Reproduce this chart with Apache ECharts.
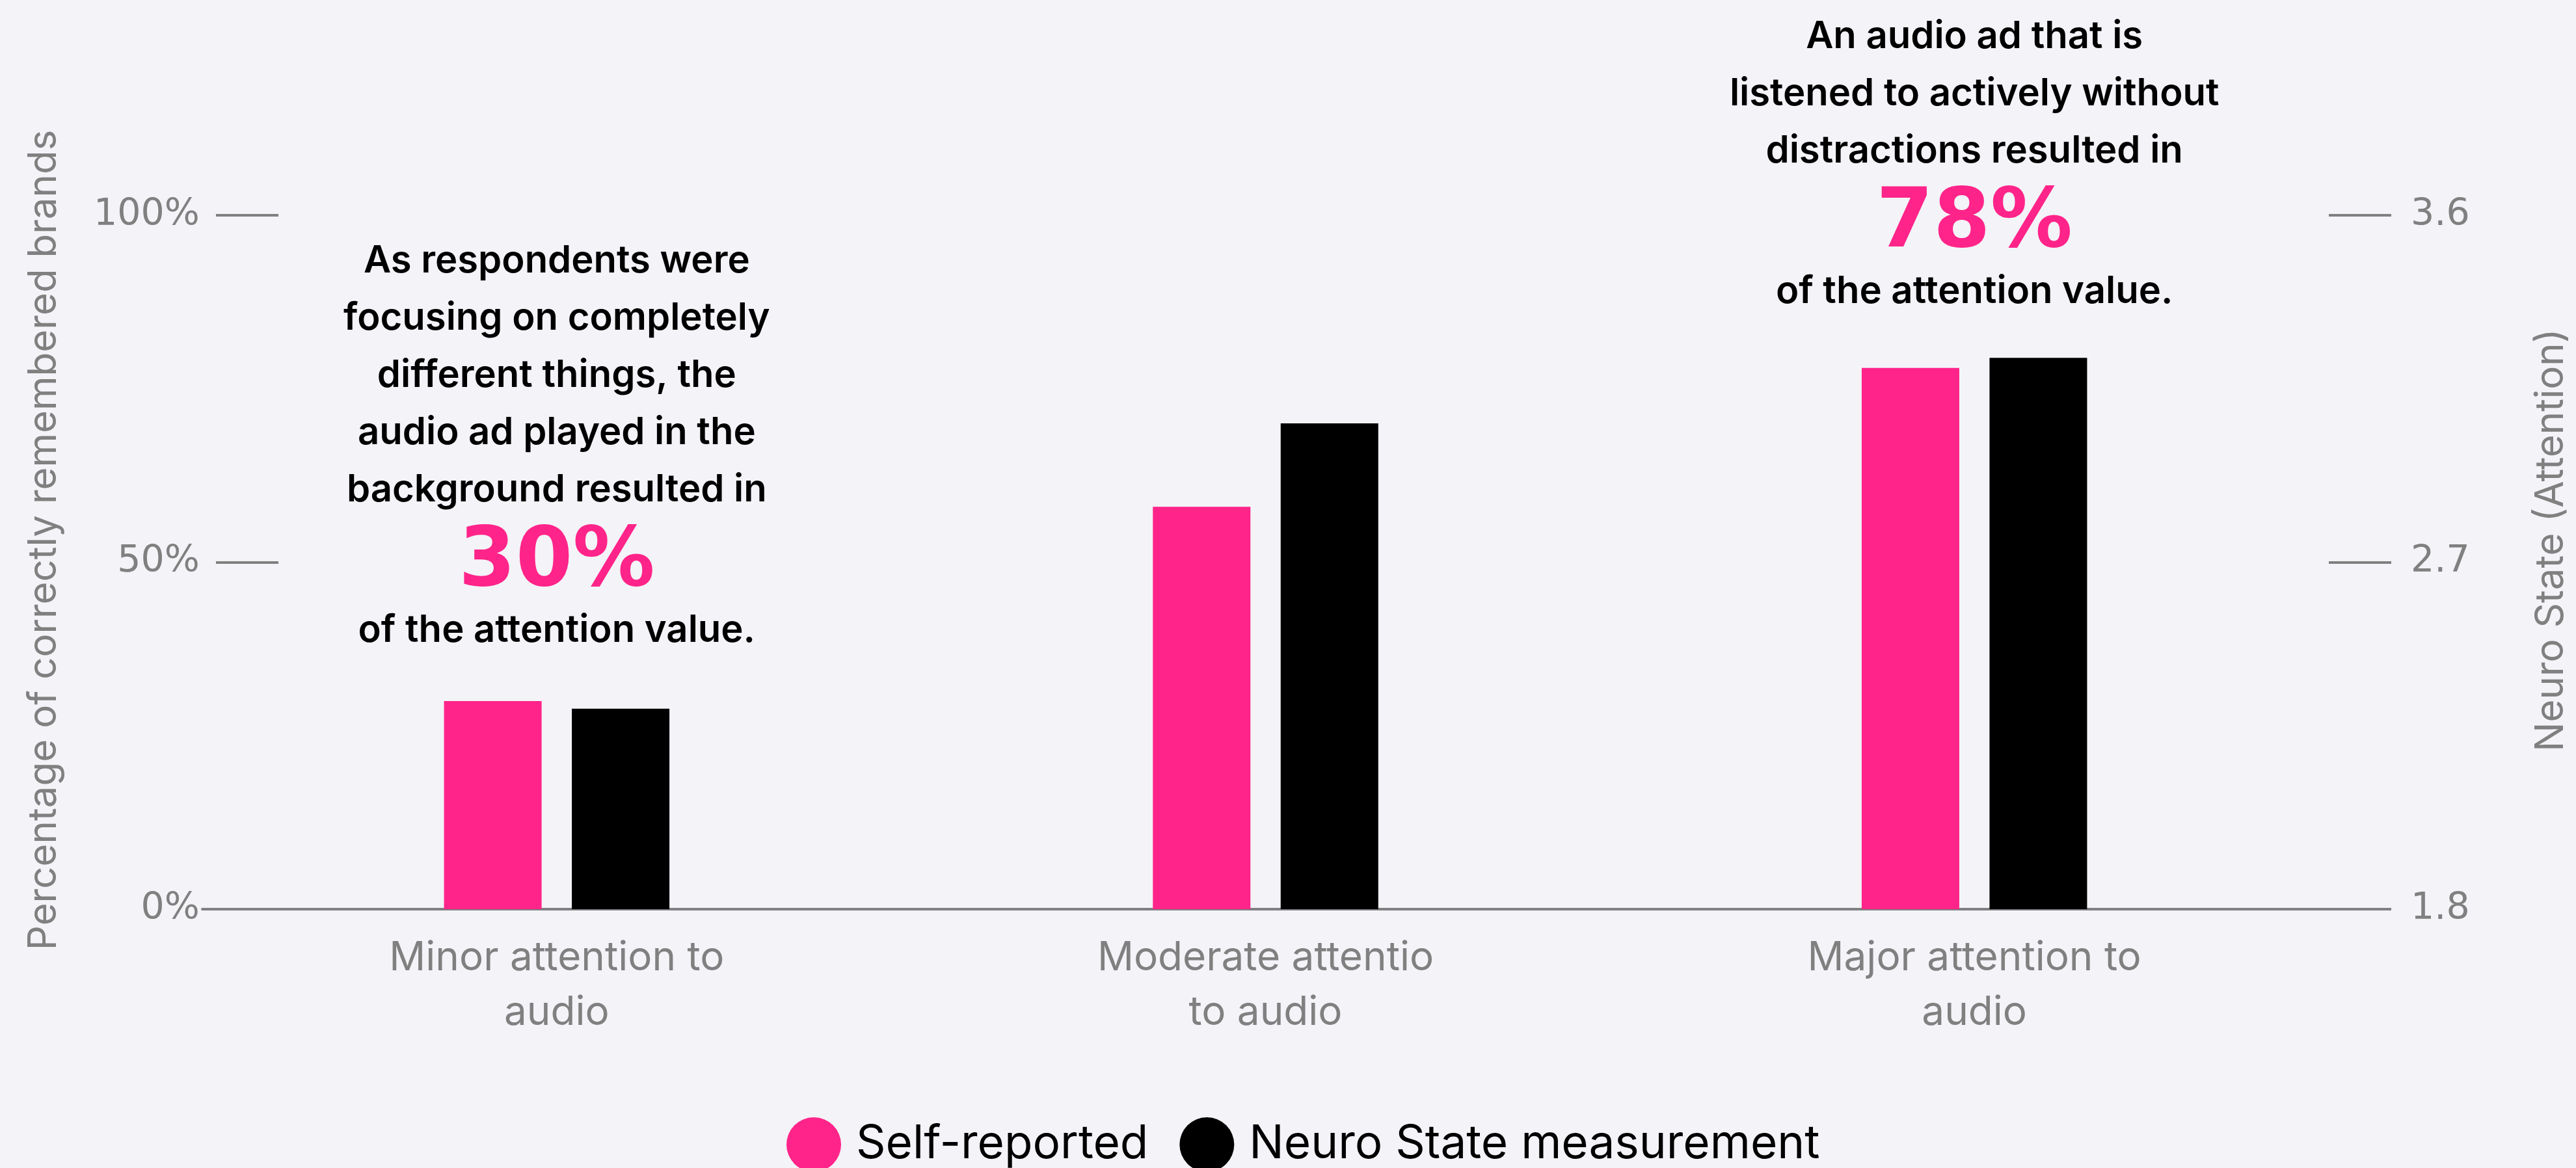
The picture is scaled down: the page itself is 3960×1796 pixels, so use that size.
<!DOCTYPE html>
<html>
<head>
<meta charset="utf-8">
<script src="https://cdn.jsdelivr.net/npm/echarts@6/dist/echarts.min.js"></script>
<style>
  html, body { margin: 0; padding: 0; background: #f3f3f8; }
  #chart { width: 3960px; height: 1796px; }
</style>
</head>
<body>
<div id="chart"></div>
<script>
// ---- data ----
const categories = ['Minor attention to\naudio', 'Moderate attentio\nto audio', 'Major attention to\naudio'];
const selfReported = [30, 58, 78];           // % (left axis)
const neuroState = [2.32, 3.06, 3.23];       // attention (right axis)
const seriesNames = ['Self-reported', 'Neuro State measurement'];
const leftAxisName = 'Percentage of correctly remembered brands';
const rightAxisName = 'Neuro State (Attention)';
const annotationText = [
  { cat: 0, top: 'As respondents were\nfocusing on completely\ndifferent things, the\naudio ad played in the\nbackground resulted in', big: '30%', bottom: 'of the attention value.' },
  { cat: 2, top: 'An audio ad that is\nlistened to actively without\ndistractions resulted in', big: '78%', bottom: 'of the attention value.' }
];

const PINK = '#ff2489';
const GRAY = '#808080';
const TXT_FONT = 'Inter';
const NUM_FONT = 'DejaVu Sans';

const chart = echarts.init(document.getElementById('chart'), null, { renderer: 'canvas' });

const option = {
  backgroundColor: '#f3f3f8',
  animation: false,
  grid: { left: 311, right: 379, top: 331, bottom: 398, containLabel: false },
  legend: {
    left: 1204, top: 1713,
    itemWidth: 84, itemHeight: 84, itemGap: 48,
    icon: 'circle',
    data: seriesNames,
    textStyle: { fontFamily: TXT_FONT, fontSize: 71, color: '#000', padding: [0, 0, 0, 18] }
  },
  xAxis: {
    type: 'category',
    data: categories,
    axisLine: { show: true, lineStyle: { color: GRAY, width: 4 } },
    axisTick: { show: false },
    axisLabel: { color: GRAY, fontFamily: TXT_FONT, fontSize: 62, lineHeight: 84, margin: 33, interval: 0 }
  },
  yAxis: [
    {
      type: 'value', min: 0, max: 100, interval: 50, position: 'left', offset: -117,
      name: leftAxisName, nameLocation: 'middle', nameRotate: 90, nameGap: 330,
      nameTextStyle: { color: GRAY, fontFamily: TXT_FONT, fontSize: 60, padding: [0, 0, 0, 68] },
      axisLine: { show: false },
      axisTick: { show: true, length: 96, lineStyle: { color: GRAY, width: 4 } },
      splitLine: { show: false },
      axisLabel: { color: GRAY, fontFamily: NUM_FONT, fontSize: 57, margin: 121, formatter: '{value}%' }
    },
    {
      type: 'value', min: 1.8, max: 3.6, interval: 0.9, position: 'right',
      name: rightAxisName, nameLocation: 'middle', nameRotate: 90, nameGap: 312,
      nameTextStyle: { color: GRAY, fontFamily: TXT_FONT, fontSize: 60, padding: [0, 0, 0, 68] },
      axisLine: { show: false },
      axisTick: { show: true, length: 96, lineStyle: { color: GRAY, width: 4 } },
      splitLine: { show: false },
      axisLabel: { color: GRAY, fontFamily: NUM_FONT, fontSize: 57, margin: 126, formatter: v => v.toFixed(1) }
    }
  ],
  series: [
    { name: seriesNames[0], type: 'bar', yAxisIndex: 0, data: selfReported, barWidth: 150, barGap: '31%', itemStyle: { color: PINK } },
    { name: seriesNames[1], type: 'bar', yAxisIndex: 1, data: neuroState, barWidth: 150, barGap: '31%', itemStyle: { color: '#000' } }
  ]
};
chart.setOption(option);

// annotations centred above their category group
const annTops = [358, 13];
const annBig = [867, 346];
const annBottom = [926, 405];
const graphics = [];
annotationText.forEach((a, i) => {
  const cx = chart.convertToPixel({ xAxisIndex: 0 }, a.cat);
  graphics.push({
    type: 'text', x: cx, y: annTops[i],
    style: { text: a.top, fontFamily: TXT_FONT, fontWeight: 600, fontSize: 58, lineHeight: 88, fill: '#000', align: 'center', verticalAlign: 'top' }
  });
  graphics.push({
    type: 'text', x: cx, y: annBig[i],
    style: { text: a.big, fontFamily: NUM_FONT, fontWeight: 'bold', fontSize: 126, fill: PINK, align: 'center', verticalAlign: 'middle' }
  });
  graphics.push({
    type: 'text', x: cx, y: annBottom[i],
    style: { text: a.bottom, fontFamily: TXT_FONT, fontWeight: 600, fontSize: 58, lineHeight: 88, fill: '#000', align: 'center', verticalAlign: 'top' }
  });
});
chart.setOption({ graphic: graphics });
</script>
</body>
</html>
